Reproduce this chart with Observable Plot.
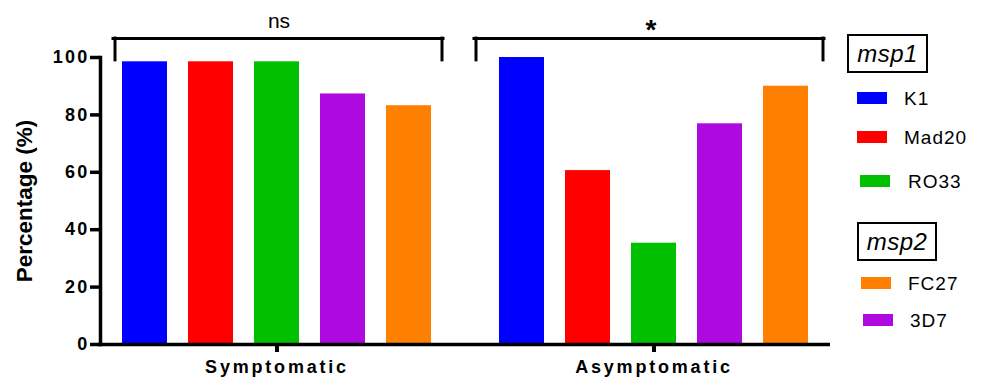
<!DOCTYPE html>
<html><head><meta charset="utf-8">
<script src="https://cdn.jsdelivr.net/npm/d3@7"></script>
<script src="https://cdn.jsdelivr.net/npm/@observablehq/plot@0.6"></script>
<style>
body{margin:0;background:#fff;font-family:"Liberation Sans",Arial,sans-serif;}
#wrap{position:relative;width:984px;height:381px;overflow:hidden;}
#chart svg{display:block;}
g[aria-label="y-axis tick label"] text{letter-spacing:2.2px;}
g[aria-label="fx-axis tick label"] text{letter-spacing:2.8px;}
g[aria-label="y-axis label"]{font-size:22.5px;}
g[aria-label="y-axis label"] text{font-size:22.5px;}
.lg{position:absolute;font-size:19px;line-height:19px;color:#000;letter-spacing:1px;white-space:nowrap;}
.box{position:absolute;border:2px solid #000;font-style:italic;font-size:24px;display:flex;align-items:center;justify-content:center;box-sizing:border-box;letter-spacing:0.5px;}
.sw{position:absolute;width:30px;height:12px;}
</style></head>
<body>
<div id="wrap"><div id="chart"></div></div>
<script>
const groups = ["Symptomatic", "Asymptomatic"];
const strains = ["K1", "Mad20", "RO33", "3D7", "FC27"];
const symptomaticPct = [98.5, 98.5, 98.5, 87.3, 83.2];
const asymptomaticPct = [100, 60.6, 35.3, 76.9, 90.0];
const strainColors = ["#0000ff", "#ff0000", "#00c000", "#ae0ae0", "#ff8000"];
const significance = ["ns", "*"];
const yTicks = [0, 20, 40, 60, 80, 100];
const legendTitles = ["msp1", "msp2"];
const msp1Strains = ["K1", "Mad20", "RO33"];
const msp2Strains = ["FC27", "3D7"];

const bracketLevel = 106.6;
const armBottom = 99.0;

const rows = groups.flatMap((g, gi) =>
  strains.map((s, si) => ({group: g, strain: s, value: [symptomaticPct, asymptomaticPct][gi][si]})));
const bracketRows = groups.map((g, i) => ({group: g, label: significance[i]}));
const b1 = [bracketRows[0]], b2 = [bracketRows[1]];
const bw = 3;

const plot = Plot.plot({
  width: 984, height: 381,
  marginLeft: 100, marginRight: 154, marginTop: 57, marginBottom: 37,
  style: {fontFamily: "Liberation Sans, Arial, sans-serif", fontSize: "18px", color: "#000", background: "#fff", overflow: "visible"},
  fx: {domain: groups, paddingInner: 24 / 377, paddingOuter: 0},
  x: {domain: strains, axis: null, paddingInner: 0.325, paddingOuter: 0.3085},
  y: {domain: [0, 100]},
  color: {domain: strains, range: strainColors},
  marks: [
    Plot.barY(rows, {fx: "group", x: "strain", y: "value", fill: "strain"}),
    Plot.frame({anchor: "left", facetAnchor: "left", strokeWidth: 3.5}),
    Plot.ruleY([0], {facetAnchor: "left", strokeWidth: 3.5, insetLeft: -1.75, insetRight: -24}),
    Plot.ruleY([0], {facetAnchor: "right", strokeWidth: 3.5}),
    // brackets
    Plot.ruleY(b1, {fx: "group", y: () => bracketLevel, insetLeft: 13, insetRight: 10, strokeWidth: bw, strokeLinecap: "square"}),
    Plot.ruleY(b2, {fx: "group", y: () => bracketLevel, insetLeft: -3, insetRight: 6, strokeWidth: bw, strokeLinecap: "square"}),
    Plot.ruleX(b1, {fx: "group", x: () => strains[0], y1: () => armBottom, y2: () => bracketLevel, dx: -30, strokeWidth: bw, strokeLinecap: "square"}),
    Plot.ruleX(b1, {fx: "group", x: () => strains[4], y1: () => armBottom, y2: () => bracketLevel, dx: 33, strokeWidth: bw, strokeLinecap: "square"}),
    Plot.ruleX(b2, {fx: "group", x: () => strains[0], y1: () => armBottom, y2: () => bracketLevel, dx: -46, strokeWidth: bw, strokeLinecap: "square"}),
    Plot.ruleX(b2, {fx: "group", x: () => strains[4], y1: () => armBottom, y2: () => bracketLevel, dx: 37, strokeWidth: bw, strokeLinecap: "square"}),
    Plot.text(b1, {fx: "group", text: "label", y: () => 112.5, dx: 2, fontSize: 21, lineAnchor: "middle"}),
    Plot.text(b2, {fx: "group", text: "label", y: () => 109.6, dx: -3, fontSize: 28, fontWeight: "bold", lineAnchor: "middle"}),
    Plot.axisY({ticks: yTicks, tickSize: 10, strokeWidth: 3.5, tickPadding: 1, fontSize: 18, fontWeight: "bold",
      label: "Percentage (%)", labelAnchor: "center", labelOffset: 84, labelArrow: "none"}),
    Plot.axisFx({anchor: "bottom", tickSize: 8, strokeWidth: 4, tickPadding: 8, fontSize: 18, fontWeight: "bold", label: null})
  ]
});
document.getElementById("chart").appendChild(plot);

// legend (HTML, at right of the plot)
const wrap = d3.select("#wrap");
const colorOf = s => strainColors[strains.indexOf(s)];
const boxes = [{left: 847, top: 34, w: 81, h: 39}, {left: 857, top: 222, w: 80, h: 39}];
legendTitles.forEach((t, i) => {
  const b = boxes[i];
  wrap.append("div").attr("class", "box")
    .style("left", b.left + "px").style("top", b.top + "px")
    .style("width", b.w + "px").style("height", b.h + "px").text(t);
});
const entryPos = [
  {sx: 857, sy: 92, tx: 904, cy: 98},
  {sx: 857, sy: 131, tx: 904, cy: 137},
  {sx: 860, sy: 175, tx: 908, cy: 181},
  {sx: 861, sy: 277, tx: 908, cy: 283.5},
  {sx: 863, sy: 314, tx: 910, cy: 320.5}
];
msp1Strains.concat(msp2Strains).forEach((s, i) => {
  const p = entryPos[i];
  wrap.append("div").attr("class", "sw")
    .style("left", p.sx + "px").style("top", p.sy + "px").style("background", colorOf(s));
  wrap.append("div").attr("class", "lg")
    .style("left", p.tx + "px").style("top", (p.cy - 9.3) + "px").text(s);
});
</script>
</body></html>
